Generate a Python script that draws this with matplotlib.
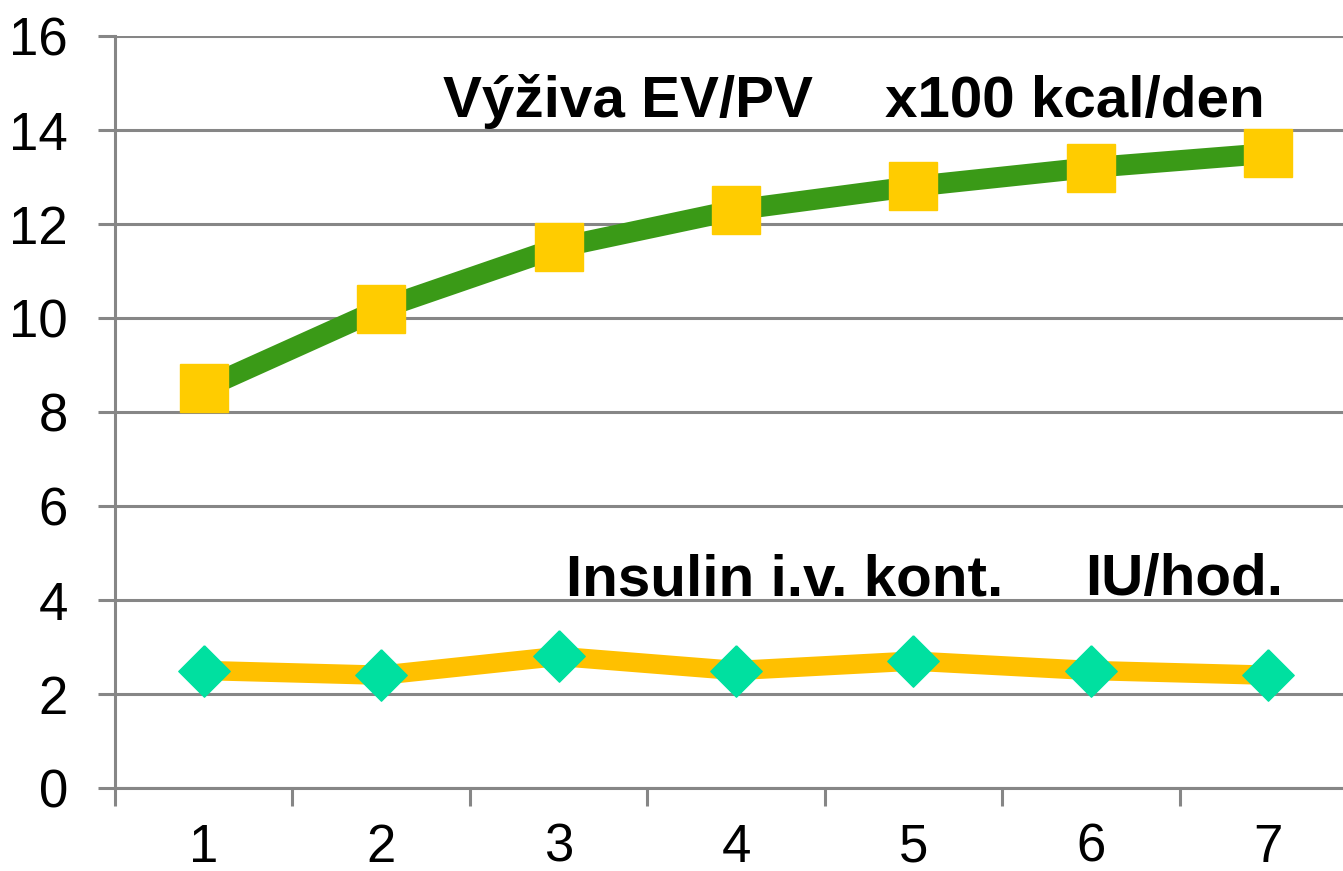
import numpy as np
import matplotlib
matplotlib.use("Agg")
import matplotlib.pyplot as plt

# data
days = [1, 2, 3, 4, 5, 6, 7]
nutrition = [8.5, 10.2, 11.5, 12.3, 12.8, 13.2, 13.5]   # x100 kcal/den
insulin = [2.5, 2.4, 2.8, 2.5, 2.7, 2.5, 2.4]           # IU/hod.
y_ticks = [0, 2, 4, 6, 8, 10, 12, 14, 16]

W, H = 1343, 871
fig = plt.figure(figsize=(W / 100, H / 100), dpi=100)
# plot area runs a little past the right edge, as in the original
ax = fig.add_axes([115 / W, 83 / H, (1357 - 115) / W, (788 - 36) / H])

plt.rcParams['font.family'] = ['Liberation Sans', 'DejaVu Sans']
grey = '#868686'
fam = ['Liberation Sans', 'DejaVu Sans']

diamond = [(0, 1), (1, 0), (0, -1), (-1, 0), (0, 1)]

ax.plot(days, nutrition, color='#3a9a17', lw=15, marker='s', ms=35,
        mfc='#ffcc00', mec='#ffcc00', solid_capstyle='butt', zorder=3)
ax.plot(days, insulin, color='#ffc000', lw=14, marker=diamond, ms=37,
        mfc='#00e0a0', mec='#00e0a0', solid_capstyle='butt', zorder=3)

ax.set_xlim(0.5, 7.5)
ax.set_ylim(0, 16)
ax.set_yticks(y_ticks)
ax.set_yticklabels([str(v) for v in y_ticks], fontsize=38, family=fam)
ax.set_xticks(days)
ax.set_xticklabels([str(d) for d in days], fontsize=38, family=fam)
ax.set_xticks(np.arange(0.5, 8.0, 1.0), minor=True)

ax.tick_params(axis='x', which='major', length=0, pad=25)
ax.tick_params(axis='x', which='minor', length=13, width=2.2, color=grey,
               direction='out')
ax.tick_params(axis='y', which='major', length=12, width=2.2, color=grey,
               direction='out', pad=22)

ax.grid(axis='y', color=grey, lw=2.2, zorder=0)
ax.set_axisbelow(True)
for side in ['top', 'right']:
    ax.spines[side].set_visible(False)
for side in ['left', 'bottom']:
    ax.spines[side].set_color(grey)
    ax.spines[side].set_linewidth(2.2)

font_b = dict(fontsize=42, fontweight='bold', ha='left', va='baseline',
              family=fam)
ax.text(2.35, 14.28, 'Výživa EV/PV', **font_b)
ax.text(4.84, 14.28, 'x100 kcal/den', **font_b)
ax.text(3.04, 4.1, 'Insulin i.v. kont.', **font_b)
ax.text(5.97, 4.1, 'IU/hod.', **font_b)

fig.savefig('out.png', dpi=100)
